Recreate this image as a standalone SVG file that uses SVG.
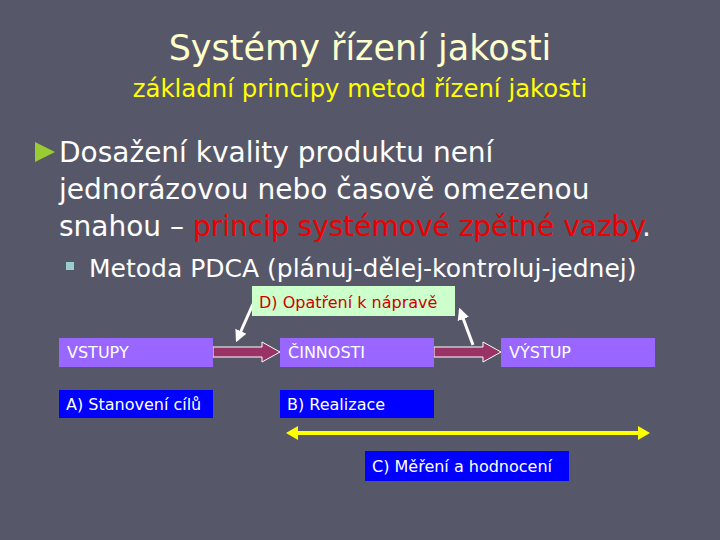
<svg xmlns="http://www.w3.org/2000/svg" width="720" height="540" viewBox="0 0 720 540">
<defs>
<style>
text{font-family:"DejaVu Sans",sans-serif}
.t{fill:#ffffcc;font-size:35px}
.s{fill:#ffff00;font-size:24.4px}
.b{fill:#ffffff;font-size:28px}
.r{fill:#ee0000}
.sb{fill:#ffffff;font-size:25px}
.lab{fill:#ffffff;font-size:16px}
.pb{fill:#9966ff}
.bb{fill:#0000ff}
.ba{fill:#993366;stroke:#ffffff;stroke-width:1}
.wl{stroke:#ffffff;stroke-width:3;fill:none}
</style>
<marker id="wh" viewBox="0 0 10 10" refX="8" refY="5" markerWidth="4" markerHeight="4" orient="auto"><path d="M0,0L10,5L0,10z" fill="#ffffff"/></marker>
</defs>
<rect width="720" height="540" fill="#565869"/>
<text class="t" x="360" y="60" text-anchor="middle">Systémy řízení jakosti</text>
<text class="s" x="360" y="97" text-anchor="middle">základní principy metod řízení jakosti</text>
<path d="M35,142L55,152L35,162z" fill="#99cc33"/>
<text class="b" x="59" y="162">Dosažení kvality produktu není</text>
<text class="b" x="59" y="199">jednorázovou nebo časově omezenou</text>
<text class="b" x="59" y="236">snahou – <tspan class="r">princip systémové zpětné vazby</tspan>.</text>
<rect x="66" y="262" width="8" height="8" fill="#99cccc"/>
<text class="sb" x="89" y="277">Metoda PDCA (plánuj-dělej-kontroluj-jednej)</text>
<g id="connectors">
<path class="ba" d="M213,347H262V342L280,352L262,362V357H213z"/>
<path class="ba" d="M434,347H483V342L501,352L483,362V357H434z"/>
<line class="wl" x1="253" y1="304" x2="237" y2="340" marker-end="url(#wh)"/>
<line class="wl" x1="473" y1="345" x2="460" y2="310" marker-end="url(#wh)"/>
<g fill="#ffff00" stroke="#ffff00">
<line x1="292" y1="433" x2="644" y2="433" stroke-width="4"/>
<path d="M286,433L298,426V440z" stroke="none"/>
<path d="M650,433L638,426V440z" stroke="none"/>
</g>
</g>
<g id="nodeD"><rect x="252" y="286" width="203" height="30" fill="#ccffcc"/><text x="259" y="308" style="fill:#cc0000;font-size:16px">D) Opatření k nápravě</text></g>
<g id="vstupy"><rect class="pb" x="59" y="338" width="154" height="29"/><text class="lab" x="67" y="358">VSTUPY</text></g>
<g id="cinnosti"><rect class="pb" x="280" y="338" width="154" height="29"/><text class="lab" x="288" y="358">ČINNOSTI</text></g>
<g id="vystup"><rect class="pb" x="501" y="338" width="154" height="29"/><text class="lab" x="509" y="358">VÝSTUP</text></g>
<g id="nodeA"><rect class="bb" x="59" y="390" width="154" height="28"/><text class="lab" x="66" y="410">A) Stanovení cílů</text></g>
<g id="nodeB"><rect class="bb" x="280" y="390" width="154" height="28"/><text class="lab" x="287" y="410">B) Realizace</text></g>
<g id="nodeC"><rect class="bb" x="365" y="451" width="204" height="30"/><text class="lab" x="372" y="472">C) Měření a hodnocení</text></g>
</svg>
